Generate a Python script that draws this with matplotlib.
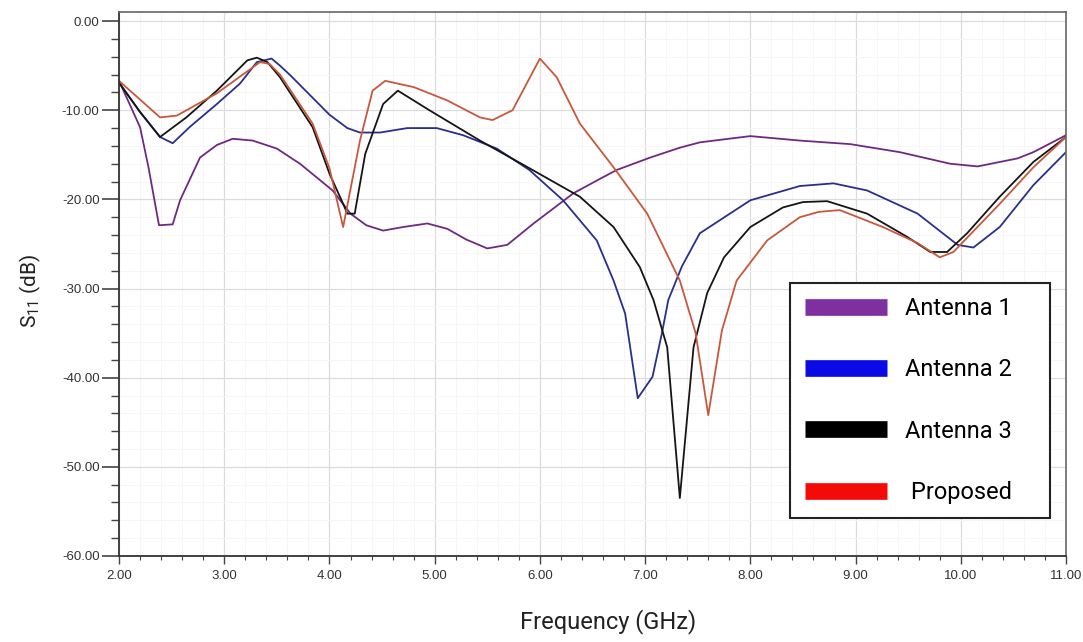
import matplotlib

matplotlib.use("Agg")
import matplotlib.pyplot as plt
from matplotlib.lines import Line2D
from matplotlib.ticker import MultipleLocator, FormatStrFormatter

# S11 curves (GHz, dB)
ant1_f = [2.0, 2.2, 2.28, 2.38, 2.51, 2.58, 2.77, 2.93, 3.08, 3.27, 3.5, 3.72, 4.03, 4.2,
          4.35, 4.51, 4.7, 4.93, 5.12, 5.3, 5.5, 5.69, 5.94, 6.32, 6.57, 6.73, 7.05, 7.33,
          7.52, 8.0, 8.47, 8.95, 9.42, 9.9, 10.16, 10.54, 10.69, 11.0]
ant1_s = [-6.7, -11.9, -16.4, -22.9, -22.8, -20.1, -15.3, -13.9, -13.2, -13.4, -14.3, -16.0,
          -19.0, -21.6, -22.9, -23.5, -23.1, -22.7, -23.3, -24.5, -25.5, -25.1, -22.7, -19.3,
          -17.7, -16.7, -15.3, -14.2, -13.6, -12.9, -13.4, -13.8, -14.7, -16.0, -16.3, -15.4,
          -14.7, -12.8]

ant2_f = [2.0, 2.2, 2.39, 2.51, 2.67, 2.93, 3.15, 3.31, 3.45, 3.53, 3.63, 3.84, 4.0, 4.17,
          4.29, 4.48, 4.74, 5.02, 5.27, 5.59, 5.9, 6.22, 6.54, 6.7, 6.81, 6.93, 7.07, 7.16,
          7.22, 7.35, 7.52, 8.0, 8.47, 8.79, 9.11, 9.59, 9.97, 10.12, 10.37, 10.69, 11.0]
ant2_s = [-6.9, -10.2, -13.0, -13.7, -11.9, -9.3, -7.0, -4.6, -4.2, -5.0, -6.1, -8.6, -10.5,
          -12.0, -12.5, -12.5, -12.0, -12.0, -12.8, -14.3, -16.7, -20.1, -24.6, -29.1, -32.8,
          -42.3, -39.9, -35.0, -31.3, -27.5, -23.8, -20.1, -18.5, -18.2, -19.0, -21.6, -25.1,
          -25.4, -23.1, -18.4, -14.7]

ant3_f = [2.0, 2.2, 2.39, 2.64, 2.93, 3.22, 3.31, 3.41, 3.53, 3.84, 4.0, 4.13, 4.17, 4.24,
          4.34, 4.51, 4.65, 4.95, 5.43, 5.9, 6.38, 6.7, 6.95, 7.08, 7.21, 7.33, 7.46, 7.59,
          7.75, 8.0, 8.31, 8.5, 8.73, 9.11, 9.49, 9.71, 9.87, 10.06, 10.37, 10.69, 11.0]
ant3_s = [-6.9, -10.2, -13.0, -10.8, -7.8, -4.4, -4.1, -4.6, -6.3, -11.9, -17.1, -20.5, -21.6,
          -21.6, -14.9, -9.3, -7.8, -10.0, -13.4, -16.5, -19.7, -23.1, -27.6, -31.3, -36.6,
          -53.5, -36.6, -30.5, -26.5, -23.1, -20.9, -20.3, -20.2, -21.6, -24.2, -25.9, -25.9,
          -23.8, -19.7, -15.8, -13.0]

prop_f = [2.0, 2.39, 2.55, 2.93, 3.34, 3.43, 3.53, 3.84, 4.0, 4.13, 4.29, 4.41, 4.53, 4.8,
          5.12, 5.43, 5.55, 5.74, 6.0, 6.16, 6.38, 6.7, 7.02, 7.33, 7.48, 7.6, 7.73, 7.87,
          8.16, 8.47, 8.65, 8.85, 9.26, 9.59, 9.8, 9.93, 10.37, 10.69, 11.0]
prop_s = [-6.7, -10.8, -10.6, -8.1, -4.6, -4.8, -6.0, -11.5, -16.5, -23.1, -13.4, -7.8, -6.7,
          -7.4, -8.9, -10.8, -11.1, -10.0, -4.2, -6.3, -11.5, -16.4, -21.6, -29.1, -35.0,
          -44.2, -34.7, -29.1, -24.6, -22.0, -21.4, -21.2, -23.1, -24.9, -26.5, -25.9, -20.5,
          -16.4, -13.0]

labels = ["Antenna 1", "Antenna 2", "Antenna 3", " Proposed"]
line_colors = ["#6e2a80", "#2b2f8c", "#151515", "#c8583c"]
legend_colors = ["#7f2f9f", "#0a0ae6", "#000000", "#f50a0a"]

fig = plt.figure(figsize=(10.83, 6.42), dpi=100)
ax = fig.add_axes([0.1099, 0.134, 0.8744, 0.847])

series = [(ant1_f, ant1_s), (ant2_f, ant2_s), (ant3_f, ant3_s), (prop_f, prop_s)]
for (f, s), c in zip(series, line_colors):
    ax.plot(f, s, color=c, linewidth=1.3)

ax.set_xlim(2.0, 11.0)
ax.set_ylim(-60, 1)

tick_font = ["Liberation Sans Narrow", "Liberation Sans"]
ax.xaxis.set_major_locator(MultipleLocator(1.0))
ax.xaxis.set_minor_locator(MultipleLocator(0.2))
ax.yaxis.set_major_locator(MultipleLocator(10))
ax.yaxis.set_minor_locator(MultipleLocator(2))
ax.xaxis.set_major_formatter(FormatStrFormatter("%.2f"))
ax.yaxis.set_major_formatter(FormatStrFormatter("%.2f"))
ax.tick_params(axis="y", which="major", length=12, width=1.2, color="#444444", pad=2)
ax.tick_params(axis="y", which="minor", length=6, width=1.0, color="#444444")
ax.tick_params(axis="x", which="major", length=6, width=1.0, color="#444444", pad=4)
ax.tick_params(axis="x", which="minor", length=3, width=0.8, color="#444444")
for lab in ax.get_xticklabels() + ax.get_yticklabels():
    lab.set_family(tick_font)
    lab.set_fontsize(9.5)
    lab.set_color("#333333")

ax.grid(True, which="major", color="#dcdcdc", linewidth=0.9)
ax.grid(True, which="minor", color="#f6f6f6", linewidth=0.7)
ax.set_axisbelow(True)

for side in ["left", "bottom"]:
    ax.spines[side].set_color("#333333")
    ax.spines[side].set_linewidth(1.3)
for side in ["top", "right"]:
    ax.spines[side].set_color("#666666")
    ax.spines[side].set_linewidth(1.2)

ax.set_xlabel("Frequency (GHz)", fontsize=17, family="Roboto", color="#222222")
ax.set_ylabel("S$_{\\mathregular{11}}$ (dB)", fontsize=15, family="Roboto", color="#222222")
ax.xaxis.set_label_coords(0.517, -0.121)
ax.yaxis.set_label_coords(-0.094, 0.487)
ax.xaxis.label.set_va("center")
ax.yaxis.label.set_va("center")

handles = [Line2D([0], [0], color=c, linewidth=12, solid_capstyle="butt") for c in legend_colors]
leg = ax.legend(handles, labels, loc="upper left", bbox_to_anchor=(0.709, 0.502, 0.274, 0.0),
                mode="expand", prop={"family": "Roboto", "size": 17}, handlelength=3.5,
                handletextpad=0.75, labelspacing=1.62, borderpad=0.6, borderaxespad=0,
                fancybox=False, framealpha=1.0, edgecolor="#222222")
leg.get_frame().set_linewidth(1.5)

fig.savefig("out.png", dpi=100)
